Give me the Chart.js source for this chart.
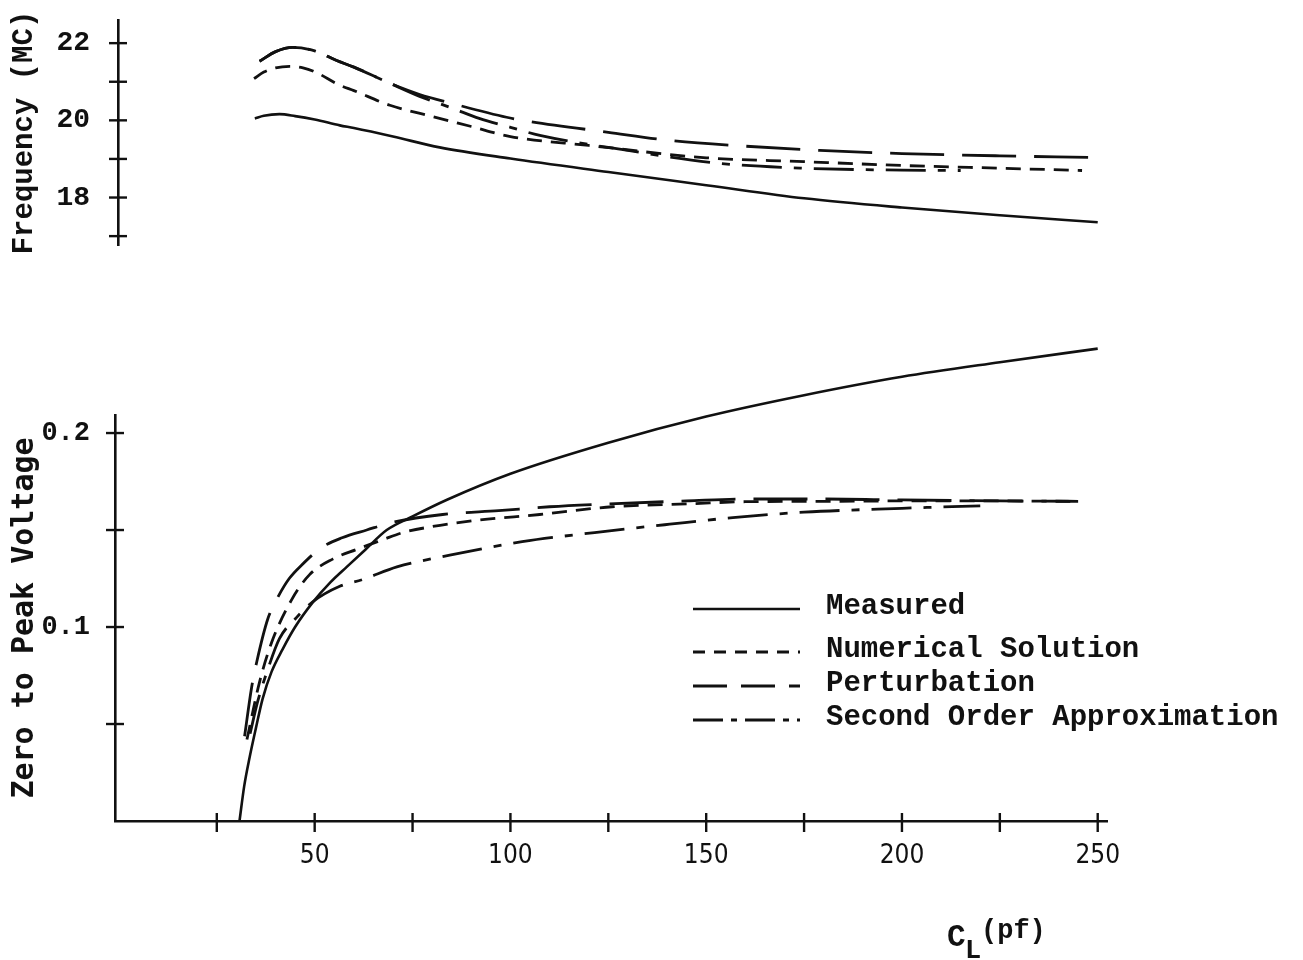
<!DOCTYPE html>
<html>
<head>
<meta charset="utf-8">
<title>Frequency and voltage vs C_L</title>
<script src="https://cdn.jsdelivr.net/npm/chart.js@4.4.0/dist/chart.umd.min.js"></script>
<style>
  html, body { margin: 0; padding: 0; background: #fff; }
  #wrap { position: relative; width: 1303px; height: 960px; }
  #wrap canvas { position: absolute; left: 0; top: 0; }
</style>
</head>
<body>
<div id="wrap">
  <canvas id="freqChart" width="1303" height="960"></canvas>
  <canvas id="voltChart" width="1303" height="960"></canvas>
</div>
<script>
// ---- data (C_L in pf) ----
const seriesLabels = ['Measured', 'Numerical Solution', 'Perturbation', 'Second Order Approximation'];

// upper panel: frequency (MC)
const freqPfMeas = [34.7, 37, 41, 45, 50, 56.4, 60, 70, 81.9, 100, 125, 150, 175, 200, 225, 250];
const freqMeas   = [20.05, 20.12, 20.16, 20.11, 20.02, 19.87, 19.8, 19.58, 19.3, 19.01, 18.66, 18.32, 17.98, 17.74, 17.54, 17.36];

const freqPfNum = [34.5, 37, 40, 43.6, 47, 50, 56.4, 60, 69.2, 80, 90, 100, 120, 150, 175, 200, 225, 246];
const freqNum   = [21.08, 21.25, 21.36, 21.4, 21.36, 21.26, 20.91, 20.77, 20.39, 20.1, 19.84, 19.58, 19.35, 19.03, 18.93, 18.83, 18.76, 18.7];

const freqPfPert = [35.9, 40, 44.4, 50, 55.6, 60, 69.2, 76.8, 85, 99, 105, 125, 140.7, 160, 179, 200, 225, 248];
const freqPert   = [21.53, 21.78, 21.89, 21.8, 21.55, 21.38, 20.96, 20.67, 20.44, 20.08, 19.97, 19.69, 19.48, 19.33, 19.22, 19.14, 19.08, 19.04];

const freqPfSec = [35.9, 40, 44.4, 50, 55.6, 60, 69.2, 76.8, 85, 92, 100, 107.5, 130, 153, 175, 200, 215];
const freqSec   = [21.53, 21.78, 21.89, 21.8, 21.55, 21.38, 20.96, 20.62, 20.32, 20.05, 19.82, 19.61, 19.22, 18.89, 18.76, 18.71, 18.7];

// lower panel: zero to peak voltage
const voltPfMeas = [30.8, 32, 33.4, 35, 36.7, 39, 41.8, 45, 49.5, 54, 58.2, 63, 68.4, 75, 83.8, 100, 125, 150, 175, 200, 225, 250];
const voltMeas   = [0, 0.018, 0.033, 0.048, 0.063, 0.077, 0.0885, 0.1, 0.1127, 0.123, 0.131, 0.14, 0.15, 0.157, 0.1656, 0.179, 0.195, 0.2085, 0.2195, 0.229, 0.2365, 0.2435];

const voltPfNum = [32.7, 35.9, 39, 44.1, 48.7, 54.6, 60.7, 67.4, 72.5, 80.1, 91.4, 107.5, 126, 146.6, 160, 180, 200, 225, 243];
const voltNum   = [0.042, 0.0715, 0.092, 0.114, 0.127, 0.135, 0.14, 0.145, 0.1487, 0.1518, 0.155, 0.158, 0.162, 0.1636, 0.1646, 0.1648, 0.165, 0.165, 0.1648];

const voltPfPert = [32.1, 33.9, 35.2, 38, 40.5, 43.5, 46.7, 51.8, 57, 63.3, 70, 82.7, 97, 110, 125, 145, 160, 180, 200, 225, 245];
const voltPert   = [0.0437, 0.069, 0.082, 0.104, 0.115, 0.125, 0.132, 0.141, 0.146, 0.15, 0.154, 0.158, 0.16, 0.162, 0.1635, 0.165, 0.166, 0.166, 0.1655, 0.165, 0.1648];

const voltPfSec = [33.5, 35.5, 38, 41, 45.4, 49.5, 56.4, 62.3, 71, 84.5, 103, 121.5, 140.7, 156.8, 175, 200, 220];
const voltSec   = [0.045, 0.062, 0.078, 0.094, 0.105, 0.113, 0.121, 0.1245, 0.131, 0.137, 0.144, 0.1487, 0.153, 0.1564, 0.1592, 0.1612, 0.1625];

// tick positions and which ones carry a label
const xTicks = [25, 50, 75, 100, 125, 150, 175, 200, 225, 250];
const xTickLabels = [50, 100, 150, 200, 250];
const freqTicks = [17, 18, 19, 20, 21, 22];
const freqTickLabels = [18, 20, 22];
const voltTicks = [0.05, 0.1, 0.15, 0.2];
const voltTickLabels = ['', '0.1', '', '0.2'];

// ---- styles ----
const INK = '#111';
const dashes = [[], [15, 9], [54, 18], [40, 12, 8, 12]];
const legendDashes = [[], [12, 9], [34, 14], [30, 8, 6, 8]];
const widths = [2.6, 2.8, 2.8, 2.8];
const monoSerif = "'Liberation Mono', 'Courier New', monospace";
const monoSans = "'DejaVu Sans Mono', monospace";
const condSans = "'Liberation Sans Narrow', 'DejaVu Sans Condensed', 'Liberation Sans', sans-serif";

function pts(xs, ys) {
  return xs.map((x, i) => ({ x: x, y: ys[i] }));
}

function makeDataset(i, xs, ys) {
  return {
    label: seriesLabels[i],
    data: pts(xs, ys),
    borderColor: INK,
    borderWidth: widths[i],
    borderDash: dashes[i],
    borderCapStyle: 'butt',
    pointRadius: 0,
    fill: false,
    clip: false,
    cubicInterpolationMode: 'monotone'
  };
}

// keep label overhang from pushing the plot area around
function noScalePadding(scale) {
  scale.paddingTop = 0;
  scale.paddingBottom = 0;
  scale.paddingLeft = 0;
  scale.paddingRight = 0;
}

// tick marks that cross the axis line, like the hand drawn ones
const crossTicks = {
  id: 'crossTicks',
  afterDraw(chart) {
    const ctx = chart.ctx;
    ctx.save();
    ctx.strokeStyle = INK;
    ctx.lineWidth = 2.4;
    Object.values(chart.scales).forEach(scale => {
      if (!scale.options.display) return;
      scale.ticks.forEach(t => {
        const p = scale.getPixelForValue(t.value);
        ctx.beginPath();
        if (scale.isHorizontal()) {
          ctx.moveTo(p, scale.top - 8);
          ctx.lineTo(p, scale.top + 11);
        } else {
          ctx.moveTo(scale.right - 9, p);
          ctx.lineTo(scale.right + 9, p);
        }
        ctx.stroke();
      });
    });
    ctx.restore();
  }
};

// legend drawn inside the lower panel + the C_L(pf) axis title
const voltExtras = {
  id: 'voltExtras',
  afterDraw(chart) {
    const ctx = chart.ctx;
    const rows = [607, 650, 684, 718];
    ctx.save();
    ctx.fillStyle = INK;
    ctx.strokeStyle = INK;
    ctx.font = 'bold 29px ' + monoSerif;
    ctx.textBaseline = 'middle';
    chart.data.datasets.forEach((ds, i) => {
      const y = rows[i];
      ctx.beginPath();
      ctx.lineWidth = ds.borderWidth;
      ctx.setLineDash(legendDashes[i]);
      ctx.moveTo(693, y + 2);
      ctx.lineTo(800, y + 2);
      ctx.stroke();
      ctx.setLineDash([]);
      ctx.fillText(ds.label, 826, y);
    });

    // x axis title C_L (pf)
    ctx.textBaseline = 'alphabetic';
    ctx.font = 'bold 31px ' + monoSerif;
    ctx.fillText('C', 947, 946);
    ctx.font = 'bold 27px ' + monoSerif;
    ctx.fillText('L', 965, 958);
    ctx.font = 'bold 27px ' + monoSerif;
    ctx.fillText('(pf)', 981, 938);
    ctx.restore();
  }
};

const xMin = -0.25, xMax = 252.5;

// ---- upper chart: frequency ----
new Chart(document.getElementById('freqChart').getContext('2d'), {
  type: 'line',
  data: {
    datasets: [
      makeDataset(0, freqPfMeas, freqMeas),
      makeDataset(1, freqPfNum, freqNum),
      makeDataset(2, freqPfPert, freqPert),
      makeDataset(3, freqPfSec, freqSec)
    ]
  },
  options: {
    responsive: false,
    animation: false,
    events: [],
    layout: { padding: { left: 0, top: 20, right: 195.5, bottom: 715 } },
    scales: {
      x: {
        type: 'linear',
        display: false,
        min: xMin,
        max: xMax
      },
      y: {
        type: 'linear',
        min: 16.77,
        max: 22.6,
        afterFit: function (scale) { scale.width = 118; noScalePadding(scale); },
        afterBuildTicks: function (scale) {
          scale.ticks = freqTicks.map(v => ({ value: v }));
        },
        border: { display: true, color: INK, width: 2.6 },
        grid: { display: true, drawOnChartArea: false, drawTicks: false },
        ticks: {
          padding: 28,
          color: INK,
          font: { family: monoSerif, size: 28, weight: 'bold' },
          callback: v => freqTickLabels.includes(v) ? String(v) : ''
        },
        title: {
          display: true,
          text: 'Frequency (MC)',
          color: INK,
          padding: { top: 7, bottom: 0 },
          font: { family: monoSerif, size: 29, weight: 'bold' }
        }
      }
    },
    plugins: {
      legend: { display: false },
      tooltip: { enabled: false }
    }
  },
  plugins: [crossTicks]
});

// ---- lower chart: zero to peak voltage ----
new Chart(document.getElementById('voltChart').getContext('2d'), {
  type: 'line',
  data: {
    datasets: [
      makeDataset(0, voltPfMeas, voltMeas),
      makeDataset(1, voltPfNum, voltNum),
      makeDataset(2, voltPfPert, voltPert),
      makeDataset(3, voltPfSec, voltSec)
    ]
  },
  options: {
    responsive: false,
    animation: false,
    events: [],
    layout: { padding: { left: 0, top: 415, right: 195.5, bottom: 79 } },
    scales: {
      x: {
        type: 'linear',
        min: -1,
        max: xMax,
        afterFit: function (scale) { scale.height = 60; noScalePadding(scale); },
        afterBuildTicks: function (scale) {
          scale.ticks = xTicks.map(v => ({ value: v }));
        },
        border: { display: true, color: INK, width: 2.6 },
        grid: { display: true, drawOnChartArea: false, drawTicks: false },
        ticks: {
          padding: 20,
          color: INK,
          maxRotation: 0,
          autoSkip: false,
          font: { family: condSans, size: 26 },
          callback: v => xTickLabels.includes(v) ? String(v) : ''
        }
      },
      y: {
        type: 'linear',
        min: 0,
        max: 0.2093,
        afterFit: function (scale) { scale.width = 115; noScalePadding(scale); },
        afterBuildTicks: function (scale) {
          scale.ticks = voltTicks.map(v => ({ value: v }));
        },
        border: { display: true, color: INK, width: 2.6 },
        grid: { display: true, drawOnChartArea: false, drawTicks: false },
        ticks: {
          padding: 25,
          color: INK,
          font: { family: monoSerif, size: 27, weight: 'bold' },
          callback: (v, i) => voltTickLabels[i]
        },
        title: {
          display: true,
          text: 'Zero to Peak Voltage',
          color: INK,
          padding: { top: 7, bottom: 0 },
          font: { family: monoSans, size: 30, weight: 'bold' }
        }
      }
    },
    plugins: {
      legend: { display: false },
      tooltip: { enabled: false }
    }
  },
  plugins: [crossTicks, voltExtras]
});
</script>
</body>
</html>
